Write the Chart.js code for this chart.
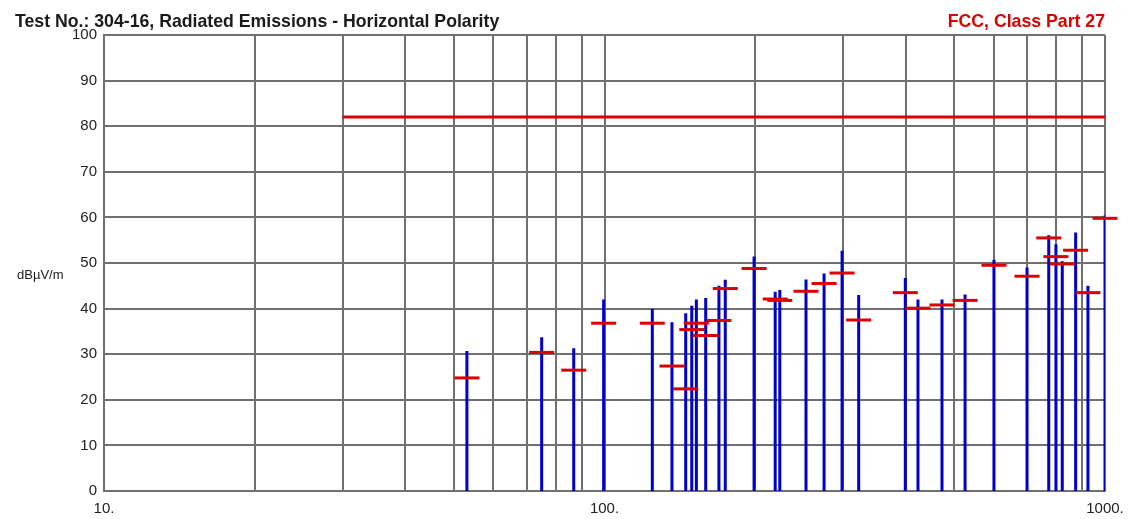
<!DOCTYPE html>
<html>
<head>
<meta charset="utf-8">
<title>Radiated Emissions - Horizontal Polarity</title>
<script src="https://cdn.jsdelivr.net/npm/chart.js@4"></script>
<style>
  html, body { margin: 0; padding: 0; background: #fff; }
  #emissions-chart { display: block; }
</style>
</head>
<body>
<canvas id="emissions-chart" width="1130" height="519"></canvas>
<script>
// Measured emission frequencies (MHz)
const frequencies = [
  53.1, 74.9, 86.8, 99.6, 124.6, 136.4, 145.3, 149.4, 152.6, 159.3, 169.3,
  174.3, 199.0, 219.3, 224.0, 252.7, 274.6, 298.3, 322.0, 399.0, 423.0,
  472.4, 525.3, 600.0, 698.6, 772.0, 798.0, 821.5, 873.7, 924.6, 1000.0
];

// Peak readings (dBµV/m)
const peakLevels = [
  30.7, 33.7, 31.3, 42.0, 39.9, 37.0, 39.0, 40.6, 42.0, 42.3, 45.0,
  46.3, 51.4, 43.7, 44.1, 46.4, 47.7, 52.7, 43.0, 46.7, 42.0,
  42.0, 43.1, 50.7, 49.0, 56.1, 54.1, 50.4, 56.7, 45.0, 60.4
];

// Quasi-peak readings (dBµV/m)
const quasiPeakLevels = [
  24.8, 30.4, 26.5, 36.8, 36.8, 27.4, 22.4, 35.4, 36.8, 34.1, 37.4,
  44.4, 48.8, 42.1, 41.8, 43.8, 45.5, 47.8, 37.5, 43.5, 40.1,
  40.8, 41.8, 49.5, 47.1, 55.5, 51.4, 49.8, 52.8, 43.5, 59.8
];

// Limit line
const limitFrequencies = [30, 1000];
const limitLevels = [82, 82];

// Frequency grid and its labels
const gridFrequencies = [
  10, 20, 30, 40, 50, 60, 70, 80, 90,
  100, 200, 300, 400, 500, 600, 700, 800, 900, 1000
];
const labelFrequencies = [10, 100, 1000];
const frequencyLabels = ['10.', '100.', '1000.'];

// Header and unit text
const chartTitle = 'Test No.: 304-16, Radiated Emissions - Horizontal Polarity';
const limitTitle = 'FCC, Class Part 27';
const unitLabel = 'dBµV/m';

const gridColor = '#707070';
const peakColor = '#0000c8';
const limitColor = '#dd0000';
const fontFamily = '"Liberation Sans", Arial, sans-serif';

// Each peak is a vertical stroke from 0 up to its level, separated by gaps
function buildPeakStrokes() {
  const points = [];
  frequencies.forEach((f, i) => {
    points.push({ x: f, y: 0 });
    points.push({ x: f, y: peakLevels[i] });
    points.push({ x: f, y: null });
  });
  return points;
}

// Header texts and the level unit drawn over the chart
const headerPlugin = {
  id: 'header',
  afterDraw(chart) {
    const ctx = chart.ctx;
    ctx.save();
    ctx.textBaseline = 'alphabetic';

    ctx.font = 'bold 17.7px ' + fontFamily;
    ctx.fillStyle = '#1a1a1a';
    ctx.textAlign = 'left';
    ctx.fillText(chartTitle, 15, 27);

    ctx.fillStyle = limitColor;
    ctx.textAlign = 'right';
    ctx.fillText(limitTitle, chart.chartArea.right, 27);

    ctx.font = '13px ' + fontFamily;
    ctx.fillStyle = '#222';
    ctx.textAlign = 'left';
    ctx.fillText(unitLabel, 17, 279);
    ctx.restore();
  }
};

const ctx = document.getElementById('emissions-chart').getContext('2d');

new Chart(ctx, {
  type: 'scatter',
  data: {
    datasets: [
      {
        label: 'Quasi-peak',
        data: frequencies.map((f, i) => ({ x: f, y: quasiPeakLevels[i] })),
        pointStyle: 'line',
        pointRadius: 12.5,
        pointBorderWidth: 3,
        pointBorderColor: limitColor,
        borderColor: limitColor,
        clip: false
      },
      {
        label: 'Limit',
        data: limitFrequencies.map((f, i) => ({ x: f, y: limitLevels[i] })),
        showLine: true,
        borderColor: limitColor,
        borderWidth: 3,
        pointRadius: 0
      },
      {
        label: 'Peak',
        data: buildPeakStrokes(),
        showLine: true,
        spanGaps: false,
        borderColor: peakColor,
        borderWidth: 3,
        borderCapStyle: 'butt',
        pointRadius: 0
      }
    ]
  },
  options: {
    responsive: false,
    animation: false,
    events: [],
    layout: {
      padding: { top: 35, right: 25, left: 0, bottom: 0 }
    },
    plugins: {
      legend: { display: false },
      tooltip: { enabled: false }
    },
    scales: {
      x: {
        type: 'logarithmic',
        min: 10,
        max: 1000,
        afterBuildTicks: scale => {
          scale.ticks = gridFrequencies.map(value => ({ value }));
        },
        afterFit: scale => {
          scale.height = 28;
          scale.paddingLeft = 0;
          scale.paddingRight = 0;
        },
        grid: {
          color: gridColor,
          lineWidth: 2,
          drawTicks: false
        },
        border: { color: gridColor, width: 2 },
        ticks: {
          autoSkip: false,
          maxRotation: 0,
          padding: 9,
          color: '#222',
          font: { family: fontFamily, size: 15 },
          callback: value => {
            const idx = labelFrequencies.indexOf(value);
            return idx >= 0 ? frequencyLabels[idx] : '';
          }
        }
      },
      y: {
        min: 0,
        max: 100,
        afterFit: scale => {
          scale.width = 104;
        },
        grid: {
          color: gridColor,
          lineWidth: 2,
          drawTicks: false
        },
        border: { color: gridColor, width: 2 },
        ticks: {
          stepSize: 10,
          padding: 7,
          color: '#222',
          font: { family: fontFamily, size: 15 }
        }
      }
    }
  },
  plugins: [headerPlugin]
});
</script>
</body>
</html>
